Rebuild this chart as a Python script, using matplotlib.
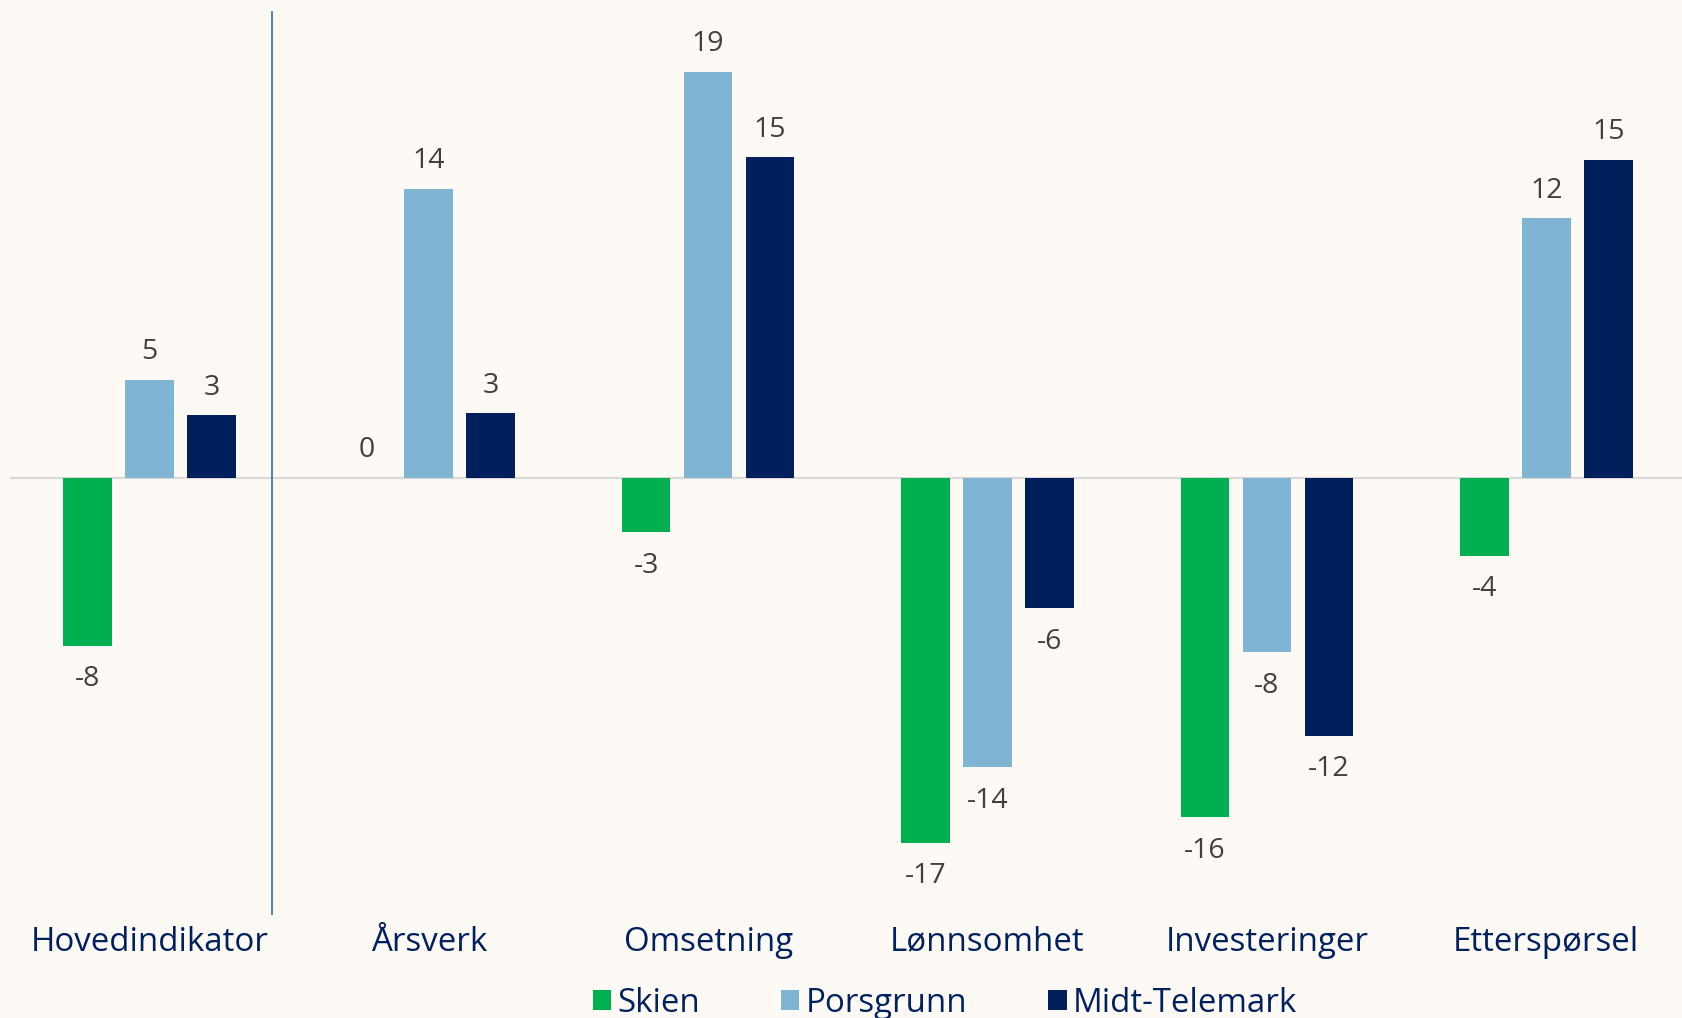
import matplotlib
matplotlib.use("Agg")
import matplotlib.pyplot as plt
import numpy as np

plt.rcParams['font.family'] = ['Open Sans', 'DejaVu Sans']

# Data
categories = ["Hovedindikator", "Årsverk", "Omsetning", "Lønnsomhet", "Investeringer", "Etterspørsel"]
series_names = ["Skien", "Porsgrunn", "Midt-Telemark"]
skien      = [-8.0, 0.0, -2.6, -17.4, -16.2, -3.7]
porsgrunn  = [4.7, 13.8, 19.4, -13.8, -8.3, 12.4]
midt       = [3.0, 3.1, 15.3, -6.2, -12.3, 15.2]

colors = ['#00B050', '#7FB4D3', '#001F5B']
bg = '#FDF9F5'
text_grey = '#404040'
navy = '#002060'

W, H = 1683, 1018
fig = plt.figure(figsize=(W / 100, H / 100), dpi=100, facecolor=bg)
ax = fig.add_axes([9.6 / W, 1 - 914.5 / H, 1676.4 / W, (914.5 - 10.7) / H])
ax.set_facecolor(bg)

x = np.arange(len(categories))
pitch = 0.222
width = 0.174
for i, (vals, name, c) in enumerate(zip([skien, porsgrunn, midt], series_names, colors)):
    xs = x + (i - 1) * pitch
    ax.bar(xs, vals, width=width, color=c, label=name, zorder=3)
    for xi, v in zip(xs, vals):
        lab = "{:.0f}".format(round(v)) if round(v) != 0 else "0"
        off = 19.8 if v >= 0 else -24.3
        ax.annotate(lab, (xi, v), xytext=(0, off), textcoords='offset points',
                    ha='center', va='center', fontsize=20.5, color=text_grey)

ax.axhline(0, color='#D9D9D9', lw=1.6, zorder=2)
ax.axvline(0.44, color='#2E6DB4', lw=1.2, zorder=2)

ax.set_xlim(-0.5, 5.5)
ax.set_ylim(-(914.5 - 478) / 20.95, (478 - 10.7) / 20.95)
ax.set_yticks([])
ax.set_xticks(x)
ax.set_xticklabels(categories, fontsize=23.8, color=navy)
ax.tick_params(axis='x', length=0, pad=8)
for s in ax.spines.values():
    s.set_visible(False)

fig.legend(loc='center', bbox_to_anchor=(945 / W, 1 - 1003 / H), ncol=3, frameon=False,
           fontsize=23.8, handlelength=0.55, handleheight=0.55, handletextpad=0.2,
           columnspacing=2.45, labelcolor=navy)

fig.savefig("out.png", dpi=100, facecolor=bg)
